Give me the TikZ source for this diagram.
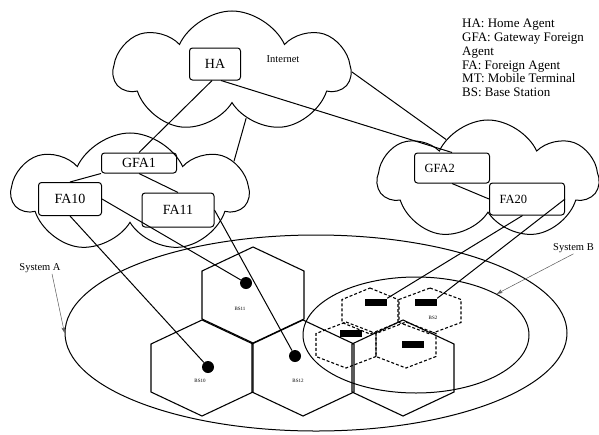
\documentclass[tikz,border=0pt]{standalone}
\usepackage{fontspec}
\setmainfont{Liberation Serif}
\usetikzlibrary{shapes.symbols,shapes.geometric,arrows.meta}

\tikzset{
  agent/.style={draw, rounded corners=3pt, line width=1pt, font=\fontsize{14}{16}\selectfont},
  agentr/.style={agent, font=\fontsize{12.5}{14}\selectfont, text width=55pt, align=left, inner xsep=10pt},
  net/.style={cloud, draw, cloud puffs=7, cloud puff arc=130, cloud ignores aspect, line width=1pt},
  link/.style={line width=1pt},
  cellline/.style={line width=1.1pt},
  subcell/.style={line width=1.1pt, dash pattern=on 3pt off 2pt},
  mtdot/.style={circle, fill=black, minimum size=12pt, inner sep=0pt},
  mtbar/.style={rectangle, fill=black, minimum width=22pt, minimum height=7pt, inner sep=0pt},
  bslabel/.style={font=\fontsize{5}{6}\selectfont, inner sep=0pt},
  system/.style={ellipse, draw, line width=1pt, inner sep=0pt},
  syslabel/.style={font=\fontsize{10.5}{12}\selectfont, inner sep=1pt},
  legend/.style={align=left, font=\fontsize{13}{13.8}\selectfont, inner sep=0pt},
  pointer/.style={-{Stealth[length=6pt,width=4pt]}, gray!70!black, line width=0.5pt},
}

% hexagonal cell: [style]{centre}{half width}{height}
\newcommand{\hexcell}[4][]{%
  \draw[#1, shift={(#2)}] (0,-#4) -- (#3,-#4/2) -- (#3,#4/2) -- (0,#4) -- (-#3,#4/2) -- (-#3,-#4/2) -- cycle;}

\begin{document}
\begin{tikzpicture}[x=1pt, y=-1pt]
\useasboundingbox (0,0) rectangle (599,434);

% Clouds
\node[net, minimum width=235pt, minimum height=122pt] (inet) at (232,72) {};
\node[net, minimum width=235pt, minimum height=120pt] (cloudA) at (130,193) {};
\node[net, minimum width=220pt, minimum height=120pt] (cloudB) at (488,180) {};
\node[syslabel] (inetlab) at (283,59) {Internet};

% Agents
\node[agent, minimum width=51pt, minimum height=32pt] (ha) at (215,64) {HA};
\node[agent, minimum width=75pt, minimum height=20pt, inner sep=1pt] (gfa1) at (139,163) {GFA1};
\node[agent, minimum width=63pt, minimum height=33pt] (fa10) at (70,199) {FA10};
\node[agent, minimum width=72pt, minimum height=34pt] (fa11) at (178,210) {FA11};
\node[agentr, minimum height=30pt] (gfa2) at (452,168) {GFA2};
\node[agentr, minimum height=32pt] (fa20) at (527,199) {FA20};

% Legend
\node[legend, anchor=north west] (key) at (462,19) {HA: Home Agent\\GFA: Gateway Foreign\\Agent\\FA: Foreign Agent\\MT: Mobile Terminal\\BS: Base Station};

% Systems
\node[system, minimum width=502pt, minimum height=196pt] (sysA) at (316,333) {};
\node[system, minimum width=226pt, minimum height=116pt] (sysB) at (416,335) {};
\node[syslabel] (labA) at (40,268) {System A};
\node[syslabel, anchor=west] (labB) at (552,248) {System B};
\draw[pointer] ([xshift=12pt]labA.south) -- (sysA.west);
\draw[pointer] (labB.south) -- (sysB.27);

% Cells
\hexcell[cellline]{253,295}{51}{48}
\hexcell[cellline]{202,368}{51}{48}
\hexcell[cellline]{303,368}{51}{48}
\hexcell[cellline]{403,368}{51}{48}
\hexcell[subcell]{370,311}{28}{23}
\hexcell[subcell]{430,311}{31}{23}
\hexcell[subcell]{346,345}{30}{23}
\hexcell[subcell]{406,345}{30}{23}
\node[bslabel] (bs11) at (240,309) {BS11};
\node[bslabel] (bs10) at (200,381) {BS10};
\node[bslabel] (bs12) at (298,381) {BS12};
\node[bslabel] (bs2) at (433,318) {BS2};

% Mobile terminals
\node[mtdot] (mt11) at (246,283) {};
\node[mtdot] (mt10) at (208,367) {};
\node[mtdot] (mt12) at (295,356) {};
\node[mtbar] (mtb1) at (376,302) {};
\node[mtbar] (mtb2) at (426,302) {};
\node[mtbar] (mtb3) at (351,333) {};
\node[mtbar] (mtb4) at (413,344) {};

% Links
\draw[link] (ha.-100) -- (gfa1.north);
\draw[link] (ha.-70) -- (gfa2.north);
\draw[link] (inet.-73) -- (cloudA.17);
\draw[link] (inet.0) -- (cloudB.136);
\draw[link] (gfa1.south west) -- (fa10.north);
\draw[link] (gfa1.south) -- (fa11.north);
\draw[link] (gfa2.south) -- (fa20.west);
\draw[link] (fa10.east) -- (mt11);
\draw[link] (fa10.south) -- (mt10);
\draw[link] (fa11.east) -- (mt12);
\draw[link] (fa20.-105) -- (mtb1.north east);
\draw[link] (fa20.east) -- (mtb2.north east);

\end{tikzpicture}
\end{document}
